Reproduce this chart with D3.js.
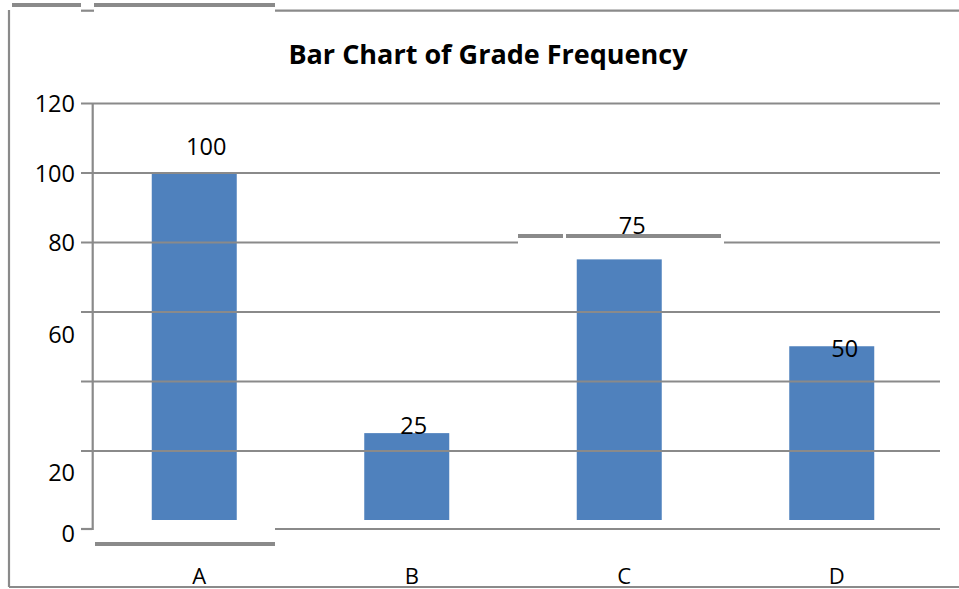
<!DOCTYPE html>
<html>
<head>
<meta charset="utf-8">
<script src="https://cdn.jsdelivr.net/npm/d3@7"></script>
<style>
  html, body { margin: 0; padding: 0; background: #fff; }
  svg { display: block; }
  text { font-family: "Open Sans", Lato, sans-serif; fill: #000; }
</style>
</head>
<body>
<svg id="chart" width="959" height="589"></svg>
<script>
// ---- data ----
const categories = ["A", "B", "C", "D"];
const frequencies = [100, 25, 75, 50];
const yTicks = [0, 20, 40, 60, 80, 100, 120];
const yTickLabels = ["0", "20", "", "60", "80", "100", "120"];
const chartTitle = "Bar Chart of Grade Frequency";

// ---- layout (not data) ----
const W = 959, H = 589;
const plot = { left: 92, right: 940, top: 103, bottom: 520 };
const gridColor = "#8a8a8a";
const barColor = "#4f81bd";
// label nudges to mimic the reference placement
const valueLabelNudge = [[12, -27], [7, -8], [13, -34], [13, 2]];
const tickLabelNudge = { "0": 13, "20": 21, "60": 22 };

const svg = d3.select("#chart");

const x = d3.scaleBand()
  .domain(categories)
  .range([88, 938])
  .paddingInner(0.6)
  .paddingOuter(0.3);

const y = d3.scaleLinear()
  .domain([0, 120])
  .range([plot.bottom, plot.top]);

// bars
svg.append("g").selectAll("rect")
  .data(categories)
  .join("rect")
  .attr("x", d => x(d))
  .attr("width", x.bandwidth())
  .attr("y", (d, i) => y(frequencies[i]))
  .attr("height", (d, i) => y(0) - y(frequencies[i]))
  .attr("fill", barColor);

// gridlines (drawn over bars) via axis
const gridAxis = d3.axisLeft(y)
  .tickValues(yTicks.filter(v => v > 0))
  .tickSize(-(plot.right - 81))
  .tickFormat("");
const gg = svg.append("g")
  .attr("transform", `translate(${plot.right},0)`)
  .call(gridAxis);
gg.select(".domain").remove();
gg.selectAll(".tick line")
  .attr("x1", 0).attr("x2", -(plot.right - 81))
  .attr("stroke", gridColor).attr("stroke-width", 2.2);

// baseline (displaced slightly below the zero value)
const baseY = y(0) + 9;
const lineStyle = sel => sel.attr("stroke", gridColor).attr("stroke-width", 2.2).attr("fill", "none");
svg.append("line").attr("x1", 81).attr("x2", plot.left).attr("y1", baseY).attr("y2", baseY).call(lineStyle);
svg.append("line").attr("x1", 275).attr("x2", plot.right).attr("y1", baseY).attr("y2", baseY).call(lineStyle);
svg.append("line").attr("x1", 95).attr("x2", 275).attr("y1", baseY + 15).attr("y2", baseY + 15)
  .attr("stroke", gridColor).attr("stroke-width", 4);

// hide the 80 gridline section and show raised pieces (reference artifact)
const y80 = y(80);
svg.append("rect").attr("x", 518).attr("y", y80 - 2).attr("width", 206).attr("height", 4).attr("fill", "#fff");
svg.append("line").attr("x1", 518).attr("x2", 563).attr("y1", y80 - 6).attr("y2", y80 - 6)
  .attr("stroke", gridColor).attr("stroke-width", 4);
svg.append("line").attr("x1", 566).attr("x2", 721).attr("y1", y80 - 6).attr("y2", y80 - 6)
  .attr("stroke", gridColor).attr("stroke-width", 4);

// y axis line
svg.append("line").attr("x1", 92.7).attr("x2", 92.7).attr("y1", plot.top).attr("y2", baseY + 1).call(lineStyle);

// y tick labels
svg.append("g").selectAll("text")
  .data(yTicks)
  .join("text")
  .attr("x", 75)
  .attr("y", (d, i) => y(d) + (tickLabelNudge[yTickLabels[i]] || 0))
  .attr("text-anchor", "end")
  .attr("dominant-baseline", "central")
  .attr("font-size", 23.5)
  .text((d, i) => yTickLabels[i]);

// x labels
svg.append("g").selectAll("text")
  .data(categories)
  .join("text")
  .attr("x", d => x(d) + x.bandwidth() / 2 + 5)
  .attr("y", 575)
  .attr("text-anchor", "middle")
  .attr("dominant-baseline", "central")
  .attr("font-size", 22)
  .text(d => d);

// value labels
svg.append("g").selectAll("text")
  .data(categories)
  .join("text")
  .attr("x", (d, i) => x(d) + x.bandwidth() / 2 + valueLabelNudge[i][0])
  .attr("y", (d, i) => y(frequencies[i]) + valueLabelNudge[i][1])
  .attr("text-anchor", "middle")
  .attr("dominant-baseline", "central")
  .attr("font-size", 23.5)
  .text((d, i) => frequencies[i]);

// title
svg.append("text")
  .attr("x", 488)
  .attr("y", 53)
  .attr("text-anchor", "middle")
  .attr("dominant-baseline", "central")
  .attr("font-size", 27)
  .attr("font-weight", "bold")
  .text(chartTitle);

// outer frame (with reference artifacts)
svg.append("line").attr("x1", 9).attr("x2", 9).attr("y1", 10).attr("y2", 587).call(lineStyle);
svg.append("line").attr("x1", 9).attr("x2", W).attr("y1", 587).attr("y2", 587).call(lineStyle);
svg.append("line").attr("x1", 81).attr("x2", 94).attr("y1", 10.7).attr("y2", 10.7).call(lineStyle);
svg.append("line").attr("x1", 275).attr("x2", W).attr("y1", 10.7).attr("y2", 10.7).call(lineStyle);
svg.append("line").attr("x1", 12).attr("x2", 81).attr("y1", 5).attr("y2", 5)
  .attr("stroke", gridColor).attr("stroke-width", 4);
svg.append("line").attr("x1", 94).attr("x2", 275).attr("y1", 5).attr("y2", 5)
  .attr("stroke", gridColor).attr("stroke-width", 4);
</script>
</body>
</html>
